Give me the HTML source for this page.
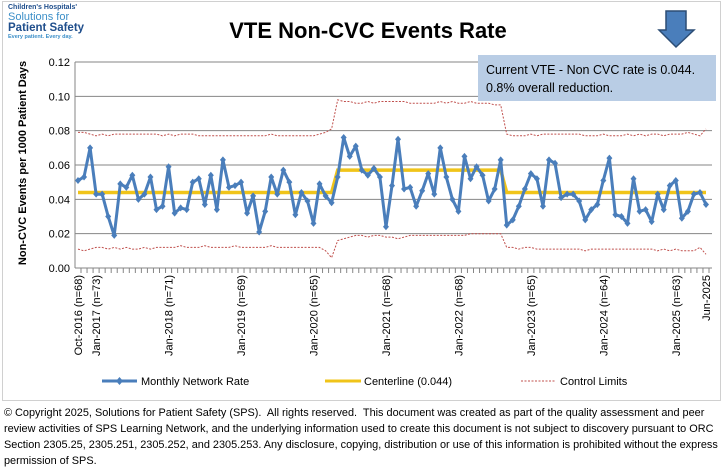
<!DOCTYPE html>
<html><head><meta charset="utf-8"><style>
body{margin:0;width:723px;height:469px;background:#fff;overflow:hidden;font-family:"Liberation Sans",sans-serif}
#wrap{position:relative;width:723px;height:469px}
.copy{position:absolute;left:4px;top:405px;width:716px;font-size:10.9px;line-height:16px;color:#000}
</style></head><body><div id="wrap">
<svg id="chart" width="723" height="402" style="position:absolute;left:0;top:0">
<rect x="2.5" y="1.5" width="718" height="399" fill="#fff" stroke="#d0d0d0"/>
<g>
<text x="8" y="9" font-size="7" font-weight="bold" fill="#1f4e8c">Children's Hospitals'</text>
<text x="8" y="20" font-size="11" fill="#3c8fc8">Solutions for</text>
<text x="8" y="31" font-size="11.5" font-weight="bold" fill="#1f4e8c">Patient Safety</text>
<text x="8" y="38" font-size="5.5" font-weight="bold" fill="#3c8fc8">Every patient. Every day.</text>
</g>
<text x="368" y="38" font-size="22" font-weight="bold" text-anchor="middle" fill="#000">VTE Non-CVC Events Rate</text>
<path d="M666 11H686V30H694L676 47L659 30H666Z" fill="#4a7ebb" stroke="#2c4d75" stroke-width="1.5"/>
<g id="plot"></g>
<rect x="478" y="55" width="238" height="46" fill="#b9cde5"/>
<text x="486" y="74" font-size="12.5" fill="#000">Current VTE - Non CVC rate is 0.044.</text>
<text x="486" y="92" font-size="12.5" fill="#000">0.8% overall reduction.</text>
<text transform="translate(26,163) rotate(-90)" font-size="11" font-weight="bold" text-anchor="middle">Non-CVC Events per 1000 Patient Days</text>
<g>
<line x1="102" y1="381" x2="137" y2="381" stroke="#4a7ebb" stroke-width="3"/>
<path d="M119.5 377L123 381L119.5 385L116 381Z" fill="#4a7ebb"/>
<text x="141" y="385" font-size="11">Monthly Network Rate</text>
<line x1="325" y1="381" x2="361" y2="381" stroke="#f0c419" stroke-width="3"/>
<text x="364" y="385" font-size="11">Centerline (0.044)</text>
<line x1="521" y1="381" x2="556" y2="381" stroke="#c0504d" stroke-width="1" stroke-dasharray="2,1.5"/>
<text x="560" y="385" font-size="11">Control Limits</text>
</g>
</svg>
<div class="copy">© Copyright 2025, Solutions for Patient Safety (SPS).&nbsp; All rights reserved.&nbsp; This document was created as part of the quality assessment and peer review activities of SPS Learning Network, and the underlying information used to create this document is not subject to discovery pursuant to ORC Section 2305.25, 2305.251, 2305.252, and 2305.253. Any disclosure, copying, distribution or use of this information is prohibited without the express permission of SPS.</div>
</div>
<script>
const rates=[.051,.053,.070,.043,.043,.030,.019,.049,.047,.054,.040,.043,.053,.034,.036,.059,.032,.035,.034,.050,.052,.037,.054,.034,.063,.047,.048,.050,.032,.042,.021,.033,.053,.043,.057,.050,.031,.044,.039,.026,.049,.042,.038,.053,.076,.065,.071,.057,.054,.058,.053,.024,.048,.075,.046,.047,.036,.045,.055,.043,.070,.053,.040,.033,.065,.052,.059,.054,.039,.046,.063,.025,.028,.036,.046,.055,.052,.036,.063,.061,.041,.043,.043,.039,.028,.034,.037,.051,.064,.031,.030,.026,.052,.033,.034,.027,.043,.034,.048,.051,.029,.033,.043,.044,.037];
const centerline=[.044,.044,.044,.044,.044,.044,.044,.044,.044,.044,.044,.044,.044,.044,.044,.044,.044,.044,.044,.044,.044,.044,.044,.044,.044,.044,.044,.044,.044,.044,.044,.044,.044,.044,.044,.044,.044,.044,.044,.044,.044,.044,.044,
.057,.057,.057,.057,.057,.057,.057,.057,.057,.057,.057,.057,.057,.057,.057,.057,.057,.057,.057,.057,.057,.057,.057,.057,.057,.057,.057,.057,
.044,.044,.044,.044,.044,.044,.044,.044,.044,.044,.044,.044,.044,.044,.044,.044,.044,.044,.044,.044,.044,.044,.044,.044,.044,.044,.044,.044,.044,.044,.044,.044,.044,.044];
const ucl=[.079,.079,.078,.077,.078,.077,.078,.078,.078,.078,.078,.078,.078,.078,.077,.078,.077,.078,.078,.078,.077,.077,.077,.077,.077,.077,.077,.077,.077,.077,.077,.077,.078,.077,.077,.077,.077,.077,.077,.077,.078,.079,.081,
.098,.097,.097,.096,.096,.097,.096,.097,.097,.097,.097,.097,.096,.096,.096,.096,.096,.097,.096,.097,.096,.096,.097,.096,.096,.096,.095,.095,
.078,.077,.077,.077,.078,.077,.078,.078,.078,.078,.078,.078,.078,.077,.077,.077,.078,.077,.077,.077,.078,.077,.078,.077,.078,.078,.077,.078,.078,.078,.079,.078,.077,.081];
const lcl=[.011,.010,.011,.012,.012,.011,.012,.011,.012,.011,.011,.012,.011,.012,.012,.012,.012,.013,.012,.012,.012,.013,.012,.012,.012,.012,.013,.012,.012,.012,.012,.012,.013,.012,.012,.012,.012,.012,.012,.012,.012,.010,.006,
.016,.017,.018,.019,.019,.018,.019,.019,.018,.018,.017,.018,.019,.019,.019,.019,.019,.019,.019,.019,.019,.019,.020,.020,.020,.020,.020,.020,
.012,.012,.011,.012,.012,.011,.011,.011,.011,.011,.011,.011,.011,.010,.011,.011,.011,.011,.011,.011,.011,.011,.011,.011,.011,.010,.011,.010,.011,.010,.010,.010,.012,.008];
const yTicks=[0,0.02,0.04,0.06,0.08,0.10,0.12];
const yTickLabels=["0.00","0.02","0.04","0.06","0.08","0.10","0.12"];
const xLabelIdx=[0,3,15,27,39,51,63,75,87,99,104];
const xLabels=["Oct-2016 (n=68)","Jan-2017 (n=73)","Jan-2018 (n=71)","Jan-2019 (n=69)","Jan-2020 (n=65)","Jan-2021 (n=68)","Jan-2022 (n=68)","Jan-2023 (n=65)","Jan-2024 (n=64)","Jan-2025 (n=63)","Jun-2025"];
const NS="http://www.w3.org/2000/svg";
const g=document.getElementById('plot');
const X0=78,X1=706,Y0=268,Y1=62,AX=75,AXR=712;
const x=i=>X0+(X1-X0)*i/(rates.length-1);
const y=v=>Y0-(Y0-Y1)*v/0.12;
function mk(t,a){const e=document.createElementNS(NS,t);for(const k in a)e.setAttribute(k,a[k]);g.appendChild(e);return e;}
yTicks.forEach((v,k)=>{
 const l=mk('line',{x1:AX,x2:AXR,y1:y(v),y2:y(v),stroke:'#868686','stroke-width':1});
 
 
 const t=mk('text',{x:AX-5,y:y(v)+4,'font-size':11,'text-anchor':'end'});t.textContent=yTickLabels[k];
 
 
});
const ax=mk('line',{x1:AX,x2:AX,y1:Y1,y2:Y0,stroke:'#868686'});


for(let i=0;i<rates.length;i++){const tk=mk('line',{x1:x(i)+3,x2:x(i)+3,y1:Y0,y2:Y0+5,stroke:'#868686'});

}
xLabelIdx.forEach((ix,k)=>{const t=mk('text',{transform:`translate(${x(ix)+4},${Y0+7}) rotate(-90)`,'font-size':11,'text-anchor':'end'});t.textContent=xLabels[k];

});
const pts=a=>a.map((v,i)=>x(i).toFixed(1)+','+y(v).toFixed(1)).join(' ');
[ucl,lcl].forEach((a,k)=>{const p=mk('polyline',{points:pts(a),fill:'none',stroke:'#c0504d','stroke-width':1,'stroke-dasharray':'2,1.5'});

});
const c=mk('polyline',{points:pts(centerline),fill:'none',stroke:'#f0c419','stroke-width':3.5});


const r=mk('polyline',{points:pts(rates),fill:'none',stroke:'#4a7ebb','stroke-width':3,'stroke-linejoin':'round'});


rates.forEach((v,i)=>{const d=mk('path',{d:`M${x(i)} ${y(v)-3.5}L${x(i)+3} ${y(v)}L${x(i)} ${y(v)+3.5}L${x(i)-3} ${y(v)}Z`,fill:'#4a7ebb'});

});
</script></body></html>
